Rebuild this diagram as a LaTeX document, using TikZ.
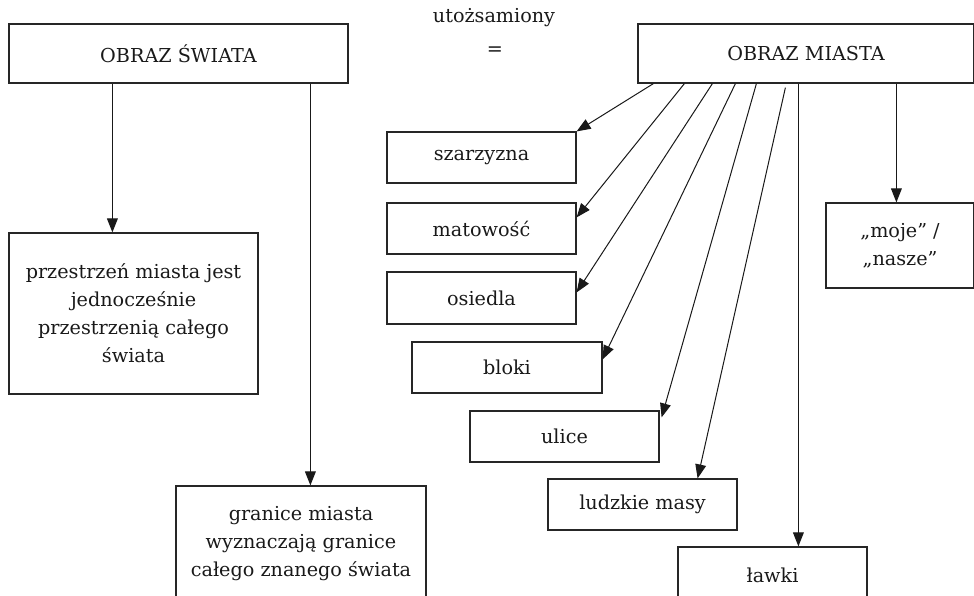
\documentclass[tikz,border=0pt]{standalone}
\usepackage{fontspec}
\setmainfont{DejaVu Serif}
\usetikzlibrary{arrows.meta,calc}
\begin{document}
\begin{tikzpicture}[x=0.5pt,y=-0.5pt,
	every node/.style={font=\fontsize{9.6}{14}\selectfont,text=black!90},
	box/.style={draw=black!85,line width=0.6pt,inner sep=0pt,align=center},
	arr/.style={-{Triangle[length=7pt,width=5.4pt]},line width=0.5pt,draw=black!90}]
	\path[use as bounding box,clip] (0,0) rectangle (974,595);
	\node[box,minimum width=169.5pt,minimum height=29.5pt] (swiat) at (178.5,53.5) {OBRAZ ŚWIATA};
	\node[box,minimum width=168pt,minimum height=29.5pt] (miasto) at (806,53.5) {OBRAZ MIASTA};
	\node (utoz) at (494,18) {utożsamiony};
	\node (rowne) at (495,51) {=};
	\node[box,minimum width=124.5pt,minimum height=80.5pt] (przestrzen) at (133.5,313.5) {przestrzeń miasta jest\\jednocześnie\\przestrzenią całego\\świata};
	\node[box,minimum width=125pt,minimum height=58pt] (granice) at (301,544) {granice miasta\\wyznaczają granice\\całego znanego świata};
	\node[box,minimum width=94.5pt,minimum height=25.5pt] (szarz) at (481.5,157.5) {szarzyzna};
	\node[box,minimum width=94.5pt,minimum height=25.5pt] (mat) at (481.5,228.5) {matowość};
	\node[box,minimum width=94.5pt,minimum height=26pt] (osiedla) at (481.5,298) {osiedla};
	\node[box,minimum width=95pt,minimum height=25.5pt] (bloki) at (507,367.5) {bloki};
	\node[box,minimum width=94.5pt,minimum height=25.5pt] (ulice) at (564.5,436.5) {ulice};
	\node[box,minimum width=94.5pt,minimum height=25.5pt] (ludzkie) at (642.5,504.5) {ludzkie masy};
	\node[box,minimum width=94.5pt,minimum height=28pt] (lawki) at (772.5,575) {ławki};
	\node[box,minimum width=74pt,minimum height=42.5pt] (moje) at (900,245.5) {„moje” /\\„nasze”};
	% obraz swiata
	\coordinate (s1) at ($(swiat.south west)+(104,0)$);
	\coordinate (s2) at ($(swiat.south west)+(302,0)$);
	\draw[arr] (s1) -- (s1 |- przestrzen.north);
	\draw[arr] (s2) -- (s2 |- granice.north);
	% obraz miasta
	\draw[arr] ($(miasto.south west)+(16,0)$) -- (szarz.north east);
	\draw[arr] ($(miasto.south west)+(47,0)$) -- ($(mat.north east)+(0,15)$);
	\draw[arr] ($(miasto.south west)+(75,0)$) -- ($(osiedla.north east)+(0,21)$);
	\draw[arr] ($(miasto.south west)+(98,0)$) -- ($(bloki.north east)+(0,18)$);
	\draw[arr] ($(miasto.south west)+(119,0)$) -- ($(ulice.north east)+(2,7)$);
	\draw[arr] ($(miasto.south west)+(148,4)$) -- ($(ludzkie.north east)+(-40,0)$);
	\coordinate (m7) at ($(miasto.south west)+(161,0)$);
	\coordinate (m8) at ($(miasto.south west)+(259,0)$);
	\draw[arr] (m7) -- (m7 |- lawki.north);
	\draw[arr] (m8) -- (m8 |- moje.north);
\end{tikzpicture}
\end{document}
